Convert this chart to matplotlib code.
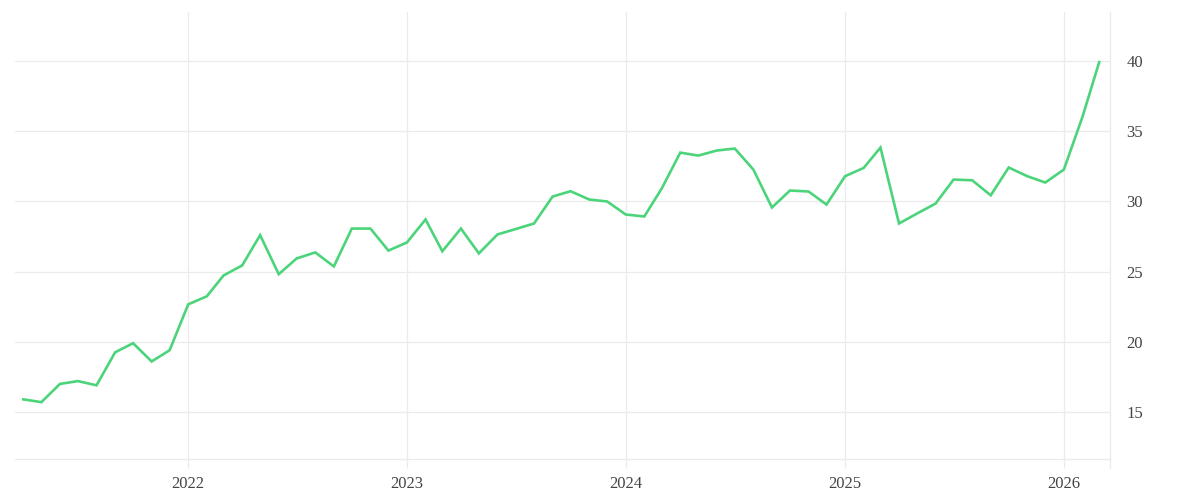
import matplotlib
matplotlib.use("Agg")
import matplotlib.pyplot as plt
import matplotlib.dates as mdates
import pandas as pd
from matplotlib.lines import Line2D

# monthly values, Apr 2021 .. Mar 2026
months = pd.date_range("2021-04-01", periods=60, freq="MS")
values = [
    15.9, 15.7, 17.0, 17.2, 16.9, 19.25, 19.9, 18.6, 19.4,
    22.67, 23.24, 24.73, 25.44, 27.6, 24.82, 25.94, 26.37, 25.37, 28.07, 28.07, 26.5, 27.08,
    28.72, 26.45, 28.07, 26.3, 27.65, 28.03, 28.43, 30.35, 30.73, 30.14, 30.0, 29.07,
    28.93, 30.92, 33.48, 33.27, 33.63, 33.77, 32.27, 29.57, 30.78, 30.71, 29.78, 31.8,
    32.39, 33.84, 28.43, 29.14, 29.85, 31.56, 31.51, 30.44, 32.42, 31.8, 31.35, 32.27,
    36.02, 39.93,
]
y_ticks = [15, 20, 25, 30, 35, 40]
year_ticks = pd.to_datetime(["2022-01-01", "2023-01-01", "2024-01-01", "2025-01-01", "2026-01-01"])

grid_col = "#ebebeb"
text_col = "#444444"
plt.rcParams["font.family"] = ["Liberation Serif", "DejaVu Serif"]

fig = plt.figure(figsize=(12, 5), dpi=100)
ax = fig.add_axes([15 / 1200, 41 / 500, 1095 / 1200, 447 / 500])

ax.plot(months, values, color="#4cd47b", linewidth=1.9, solid_joinstyle="miter")

ax.set_xlim(pd.Timestamp("2021-03-18"), pd.Timestamp("2026-03-19"))
ax.set_ylim(11.65, 43.5)

ax.set_xticks(year_ticks)
ax.xaxis.set_major_formatter(mdates.DateFormatter("%Y"))
ax.set_yticks(y_ticks)

ax.yaxis.tick_right()
ax.grid(True, color=grid_col, linewidth=0.9)
ax.set_axisbelow(True)

for side in ["top", "left"]:
    ax.spines[side].set_visible(False)
for side in ["right", "bottom"]:
    ax.spines[side].set_color(grid_col)
    ax.spines[side].set_linewidth(0.9)

ax.tick_params(axis="x", length=6.5, width=0.9, color=grid_col, pad=6,
               labelsize=12, labelcolor=text_col)
ax.tick_params(axis="y", length=0, pad=12, labelsize=12, labelcolor=text_col)

# extend the right border a little below the baseline
ax.add_line(Line2D([1, 1], [0, -0.02], transform=ax.transAxes,
                   color=grid_col, linewidth=0.9, clip_on=False))

fig.savefig("out.png", dpi=100)
